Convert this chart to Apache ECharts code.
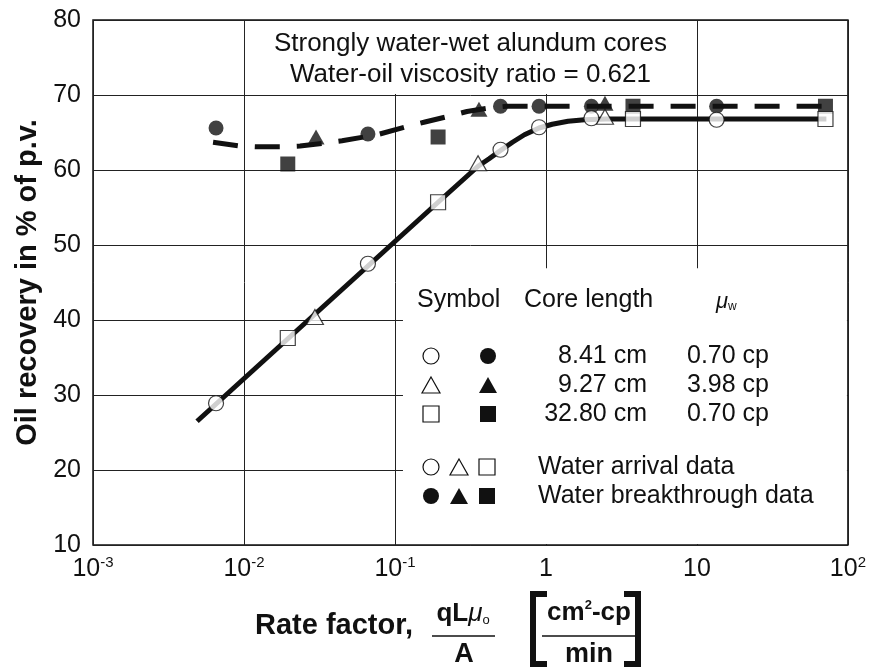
<!DOCTYPE html>
<html><head><meta charset="utf-8">
<script src="https://cdn.jsdelivr.net/npm/echarts@6/dist/echarts.min.js"></script>
<style>html,body{margin:0;padding:0;background:#fff}#c{width:869px;height:667px}</style>
</head><body><div id="c"></div>
<script>
// ---- data ----
const xTickLabels = ['10|-3', '10|-2', '10|-1', '1', '10', '10|2'];
const yMin = 10, yMax = 80, yStep = 10;

// Water arrival data (open symbols)
const arrival841 = [[0.00653, 28.9], [0.0662, 47.5], [0.50, 62.7], [0.90, 65.7], [2.0, 66.9], [13.5, 66.7]];
const arrival927 = [[0.0295, 40.4], [0.355, 60.9], [2.46, 67.1]];
const arrival3280 = [[0.0195, 37.6], [0.193, 55.7], [3.77, 66.8], [71, 66.8]];
// Water breakthrough data (filled symbols)
const breakthrough841 = [[0.00653, 65.6], [0.0662, 64.8], [0.50, 68.5], [0.90, 68.5], [2.0, 68.5], [13.5, 68.5]];
const breakthrough927 = [[0.030, 64.4], [0.36, 68.1], [2.46, 68.9]];
const breakthrough3280 = [[0.0195, 60.8], [0.193, 64.4], [3.77, 68.5], [71, 68.5]];
// Fitted curves
const arrivalCurve = [[0.00489, 26.5], [0.193, 55.7], [0.355, 60.5], [0.42, 61.5], [0.5, 62.6], [0.6, 63.7], [0.72, 64.7], [0.9, 65.6], [1.1, 66.1], [1.4, 66.5], [1.8, 66.7], [2.5, 66.8], [72, 66.8]];
const breakthroughCurve = [[0.00624, 63.7], [0.0094, 63.2], [0.0122, 63.1], [0.0179, 63.1], [0.0235, 63.2], [0.0344, 63.6], [0.0446, 63.9], [0.076, 64.7], [0.1257, 65.9], [0.158, 66.4], [0.231, 67.2], [0.300, 67.8], [0.426, 68.3], [0.55, 68.5], [72, 68.5]];

const titleLines = ['Strongly water-wet alundum cores', 'Water-oil viscosity ratio = 0.621'];
const legendHeader = ['Symbol', 'Core length'];
const legendLengths = ['8.41 cm', '9.27 cm', '32.80 cm'];
const legendMuw = ['0.70 cp', '3.98 cp', '0.70 cp'];
const legendKinds = ['Water arrival data', 'Water breakthrough data'];
const yTitle = 'Oil recovery in % of p.v.';

const FONT = '"Liberation Sans", Arial, Helvetica, sans-serif';
const INK = '#111';

const chart = echarts.init(document.getElementById('c'), null, {renderer: 'canvas'});

function openSym(name, data, symbol, size) {
  return {name, type: 'scatter', data, symbol, symbolSize: size, z: 5,
    itemStyle: {color: '#fff', borderColor: INK, borderWidth: 1.2}};
}
function fillSym(name, data, symbol, size) {
  return {name, type: 'scatter', data, symbol, symbolSize: size, z: 4,
    itemStyle: {color: INK, borderColor: INK, borderWidth: 0}};
}

const option = {
  animation: false,
  backgroundColor: '#fff',
  grid: {left: 93, right: 20, top: 20, bottom: 122, show: true, borderColor: INK, borderWidth: 1.5, backgroundColor: 'transparent'},
  xAxis: {
    type: 'log', logBase: 10, min: 0.001, max: 100,
    axisLine: {show: false}, axisTick: {show: false}, minorTick: {show: false},
    splitLine: {show: true, lineStyle: {color: '#222', width: 1}},
    axisLabel: {
      margin: 10,
      formatter: function (v) {
        const i = Math.round(Math.log10(v)) + 3;
        const lab = xTickLabels[i] || '';
        const p = lab.split('|');
        return p.length > 1 ? '{b|' + p[0] + '}{s|' + p[1] + '}' : '{b|' + p[0] + '}';
      },
      rich: {
        b: {fontSize: 25, fontFamily: FONT, color: INK, lineHeight: 28},
        s: {fontSize: 15, fontFamily: FONT, color: INK, lineHeight: 14, verticalAlign: 'top'}
      }
    }
  },
  yAxis: {
    type: 'value', min: yMin, max: yMax, interval: yStep,
    axisLine: {show: false}, axisTick: {show: false},
    splitLine: {show: true, lineStyle: {color: '#222', width: 1}},
    axisLabel: {fontSize: 25, fontFamily: FONT, color: INK, margin: 12},
    name: yTitle, nameLocation: 'middle', nameRotate: 90, nameGap: 45,
    nameTextStyle: {fontSize: 29, fontWeight: 'bold', fontFamily: FONT, color: INK}
  },
  series: [
    {name: 'arrival curve', type: 'line', data: arrivalCurve, showSymbol: false, symbol: 'none', smooth: false, z: 2,
      lineStyle: {color: INK, width: 5, cap: 'butt', join: 'round'}},
    {name: 'breakthrough curve', type: 'line', data: breakthroughCurve, showSymbol: false, symbol: 'none', smooth: false, z: 2,
      lineStyle: {color: INK, width: 5, type: [25, 17], cap: 'butt', join: 'round'}},
    fillSym('bt 8.41', breakthrough841, 'circle', 15),
    fillSym('bt 9.27', breakthrough927, 'triangle', [17, 15]),
    fillSym('bt 32.80', breakthrough3280, 'rect', 15),
    openSym('ar 8.41', arrival841, 'circle', 15),
    openSym('ar 9.27', arrival927, 'triangle', [17, 15]),
    openSym('ar 32.80', arrival3280, 'rect', 15)
  ]
};
chart.setOption(option);

// ---- annotations placed from the chart's own scales ----
const px = (x, y) => chart.convertToPixel({gridIndex: 0}, [x, y]);
const tl = px(0.001, yMax), br = px(100, yMin);
const g = [];
// title box (hides grid lines)
const a = px(0.01, 70), b = px(10, 70);
g.push({type: 'rect', z: 1, shape: {x: a[0] + 1, y: tl[1] + 1, width: b[0] - a[0] - 2, height: a[1] - tl[1] - 2}, style: {fill: '#fff'}});
const cx = (a[0] + b[0]) / 2;
g.push({type: 'text', z: 6, x: cx, y: tl[1] + 24, style: {text: titleLines[0], font: '26px ' + FONT, fill: INK, align: 'center', verticalAlign: 'middle'}});
g.push({type: 'text', z: 6, x: cx, y: tl[1] + 55, style: {text: titleLines[1], font: '26px ' + FONT, fill: INK, align: 'center', verticalAlign: 'middle'}});
// legend box (hides grid lines)
const lb = px(0.1, 46.9);
const lx = lb[0] + 8, ly = lb[1];
g.push({type: 'rect', z: 1, shape: {x: lx, y: ly, width: br[0] - lx - 1, height: br[1] - ly - 1}, style: {fill: '#fff'}});
const f = '25px ' + FONT;
const rowY = [356, 385, 414];
g.push({type: 'text', z: 6, x: 417, y: 300, style: {text: legendHeader[0], font: f, fill: INK, verticalAlign: 'middle'}});
g.push({type: 'text', z: 6, x: 524, y: 300, style: {text: legendHeader[1], font: f, fill: INK, verticalAlign: 'middle'}});
g.push({type: 'text', z: 6, x: 716, y: 302, style: {text: '{m|μ}{w|w}', font: f, fill: INK, verticalAlign: 'middle',
  rich: {m: {fontSize: 22, fontStyle: 'italic', fontFamily: FONT}, w: {fontSize: 12, fontFamily: FONT, verticalAlign: 'bottom'}}}});
function legSym(kind, filled, x, y) {
  const st = filled ? {fill: INK, stroke: INK, lineWidth: 0} : {fill: '#fff', stroke: INK, lineWidth: 1.2};
  if (kind === 'circle') g.push({type: 'circle', z: 6, shape: {cx: x, cy: y, r: 8}, style: st});
  else if (kind === 'triangle') g.push({type: 'polygon', z: 6, shape: {points: [[x, y - 8], [x + 9, y + 8], [x - 9, y + 8]]}, style: st});
  else g.push({type: 'rect', z: 6, shape: {x: x - 8, y: y - 8, width: 16, height: 16}, style: st});
}
const kinds = ['circle', 'triangle', 'rect'];
for (let i = 0; i < 3; i++) {
  legSym(kinds[i], false, 431, rowY[i]);
  legSym(kinds[i], true, 488, rowY[i]);
  g.push({type: 'text', z: 6, x: 647, y: rowY[i], style: {text: legendLengths[i], font: f, fill: INK, align: 'right', verticalAlign: 'middle'}});
  g.push({type: 'text', z: 6, x: 687, y: rowY[i], style: {text: legendMuw[i], font: f, fill: INK, verticalAlign: 'middle'}});
}
const kY = [467, 496];
for (let r = 0; r < 2; r++) {
  for (let i = 0; i < 3; i++) legSym(kinds[i], r === 1, 431 + i * 28, kY[r]);
  g.push({type: 'text', z: 6, x: 538, y: kY[r], style: {text: legendKinds[r], font: f, fill: INK, verticalAlign: 'middle'}});
}
// x-axis title
const bf = 'bold 29px ' + FONT;
g.push({type: 'text', z: 6, x: 255, y: 626, style: {text: 'Rate factor,', font: bf, fill: INK, verticalAlign: 'middle'}});
g.push({type: 'text', z: 6, x: 463, y: 614, style: {text: '{a|qL}{m|μ}{o|o}', fill: INK, align: 'center', verticalAlign: 'middle',
  rich: {a: {fontSize: 26, fontWeight: 'bold', fontFamily: FONT}, m: {fontSize: 26, fontStyle: 'italic', fontFamily: FONT}, o: {fontSize: 13, fontFamily: FONT, verticalAlign: 'bottom'}}}});
g.push({type: 'line', z: 6, shape: {x1: 432, y1: 636, x2: 495, y2: 636}, style: {stroke: INK, lineWidth: 1.5}});
g.push({type: 'text', z: 6, x: 464, y: 655, style: {text: 'A', font: 'bold 27px ' + FONT, fill: INK, align: 'center', verticalAlign: 'middle'}});
g.push({type: 'polyline', z: 6, shape: {points: [[547, 594], [533, 594], [533, 664], [547, 664]]}, style: {stroke: INK, lineWidth: 6, fill: null}});
g.push({type: 'polyline', z: 6, shape: {points: [[624, 594], [638, 594], [638, 664], [624, 664]]}, style: {stroke: INK, lineWidth: 6, fill: null}});
g.push({type: 'text', z: 6, x: 589, y: 613, style: {text: '{a|cm}{s|2}{a|-cp}', fill: INK, align: 'center', verticalAlign: 'middle',
  rich: {a: {fontSize: 26, fontWeight: 'bold', fontFamily: FONT, lineHeight: 28}, s: {fontSize: 13, fontWeight: 'bold', fontFamily: FONT, verticalAlign: 'top', lineHeight: 12}}}});
g.push({type: 'line', z: 6, shape: {x1: 542, y1: 636, x2: 637, y2: 636}, style: {stroke: INK, lineWidth: 1.5}});
g.push({type: 'text', z: 6, x: 589, y: 655, style: {text: 'min', font: 'bold 27px ' + FONT, fill: INK, align: 'center', verticalAlign: 'middle'}});

chart.setOption({graphic: {elements: g}});
</script></body></html>
